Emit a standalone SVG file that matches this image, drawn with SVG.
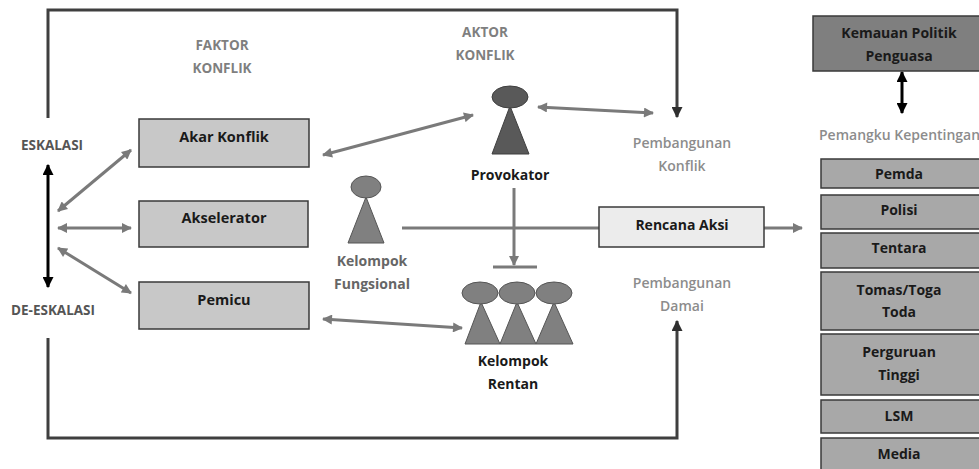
<svg xmlns="http://www.w3.org/2000/svg" width="979" height="469" viewBox="0 0 979 469">
<style>
text{font-family:"Open Sans","Noto Sans","Liberation Sans",sans-serif;text-anchor:middle}
.blk{fill:#1a1a1a;font-weight:bold;font-size:14px}
.gry{fill:#7f7f7f;font-weight:bold;font-size:13.5px}
.lgt{fill:#8c8c8c;font-size:14px;font-weight:600}
.box{fill:#c8c8c8;stroke:#3a3a3a;stroke-width:1.5}
.sbox{fill:#a8a8a8;stroke:#3a3a3a;stroke-width:1.5}
.ga{stroke:#7a7a7a;stroke-width:3;fill:none}
.fr{stroke:#3f3f3f;stroke-width:3;fill:none}
.bk{stroke:#000;stroke-width:3;fill:none}
</style>
<defs>
<marker id="gh" viewBox="0 0 10 10" refX="9" refY="5" markerWidth="11" markerHeight="10" markerUnits="userSpaceOnUse" orient="auto-start-reverse"><path d="M0,0L10,5L0,10z" fill="#7a7a7a"/></marker>
<marker id="fh" viewBox="0 0 10 10" refX="9" refY="5" markerWidth="11" markerHeight="11" markerUnits="userSpaceOnUse" orient="auto-start-reverse"><path d="M0,0L10,5L0,10z" fill="#2f2f2f"/></marker>
<marker id="bh" viewBox="0 0 10 10" refX="9" refY="5" markerWidth="11" markerHeight="11" markerUnits="userSpaceOnUse" orient="auto-start-reverse"><path d="M0,0L10,5L0,10z" fill="#000"/></marker>
</defs>

<g id="connectors">
<path class="fr" d="M48,118 V10 H677 V117" marker-end="url(#fh)"/>
<path class="fr" d="M48,338 V438 H677 V321" marker-end="url(#fh)"/>
<line class="bk" x1="48" y1="165" x2="48" y2="287" marker-start="url(#bh)" marker-end="url(#bh)"/>
<line class="ga" x1="58" y1="211" x2="131" y2="150" marker-start="url(#gh)" marker-end="url(#gh)"/>
<line class="ga" x1="58" y1="228" x2="131" y2="228" marker-start="url(#gh)" marker-end="url(#gh)"/>
<line class="ga" x1="58" y1="248" x2="131" y2="293" marker-start="url(#gh)" marker-end="url(#gh)"/>
<line class="ga" x1="323" y1="155" x2="473" y2="115" marker-start="url(#gh)" marker-end="url(#gh)"/>
<line class="ga" x1="538" y1="107" x2="653" y2="113" marker-start="url(#gh)" marker-end="url(#gh)"/>
<line class="ga" x1="323" y1="319" x2="462" y2="328" marker-start="url(#gh)" marker-end="url(#gh)"/>
<line class="ga" x1="402" y1="228" x2="599" y2="228"/>
<line class="ga" x1="514" y1="188" x2="514" y2="265" marker-end="url(#gh)"/>
<line class="ga" x1="493" y1="267" x2="537" y2="267"/>
<line class="ga" x1="764" y1="228" x2="802" y2="228" marker-end="url(#gh)"/>
<line class="bk" x1="902" y1="72" x2="902" y2="113" marker-start="url(#bh)" marker-end="url(#bh)"/>
</g>

<g id="labels">
<text class="gry" x="222" y="50">FAKTOR</text>
<text class="gry" x="222" y="73">KONFLIK</text>
<text class="gry" x="485" y="37">AKTOR</text>
<text class="gry" x="485" y="60">KONFLIK</text>
<text class="gry" x="52" y="150" style="fill:#555">ESKALASI</text>
<text class="gry" x="53" y="315" style="fill:#555">DE-ESKALASI</text>
<text class="lgt" x="682" y="148">Pembangunan</text>
<text class="lgt" x="682" y="171">Konflik</text>
<text class="lgt" x="682" y="288">Pembangunan</text>
<text class="lgt" x="682" y="311">Damai</text>
<text class="lgt" x="819" y="140" style="text-anchor:start">Pemangku Kepentingan</text>
</g>

<g id="akar-konflik">
<rect class="box" x="139" y="119" width="170" height="48"/>
<text class="blk" x="224" y="142" style="font-size:14.5px">Akar Konflik</text>
</g>
<g id="akselerator">
<rect class="box" x="139" y="201" width="169" height="46"/>
<text class="blk" x="224" y="223" style="font-size:14.5px">Akselerator</text>
</g>
<g id="pemicu">
<rect class="box" x="139" y="282" width="170" height="47"/>
<text class="blk" x="224" y="305" style="font-size:14.5px">Pemicu</text>
</g>

<g id="provokator">
<polygon points="510,106 492,154 529,154" fill="#595959" stroke="#3f3f3f" stroke-width="1"/>
<ellipse cx="510" cy="97" rx="18" ry="11" fill="#595959" stroke="#3f3f3f" stroke-width="1"/>
<text class="blk" x="510" y="180">Provokator</text>
</g>

<g id="kelompok-fungsional">
<polygon points="366,197 348,243 384,243" fill="#808080" stroke="#555" stroke-width="1"/>
<ellipse cx="366" cy="187" rx="15" ry="11" fill="#808080" stroke="#555" stroke-width="1"/>
<text class="blk" x="372" y="266" style="fill:#666">Kelompok</text>
<text class="blk" x="372" y="289" style="fill:#666">Fungsional</text>
</g>

<g id="kelompok-rentan">
<polygon points="481,302 465,344 500,344" fill="#808080" stroke="#555" stroke-width="1"/>
<polygon points="517,302 500,344 536,344" fill="#808080" stroke="#555" stroke-width="1"/>
<polygon points="554,302 536,344 573,344" fill="#808080" stroke="#555" stroke-width="1"/>
<ellipse cx="480" cy="293" rx="18" ry="11" fill="#808080" stroke="#555" stroke-width="1"/>
<ellipse cx="517" cy="293" rx="18" ry="11" fill="#808080" stroke="#555" stroke-width="1"/>
<ellipse cx="554" cy="293" rx="18" ry="11" fill="#808080" stroke="#555" stroke-width="1"/>
<text class="blk" x="513" y="366">Kelompok</text>
<text class="blk" x="513" y="389">Rentan</text>
</g>

<g id="rencana-aksi">
<rect x="599" y="207" width="165" height="40" fill="#ececec" stroke="#3a3a3a" stroke-width="1.5"/>
<text class="blk" x="682" y="230">Rencana Aksi</text>
</g>

<g id="kemauan-politik">
<rect x="813" y="16" width="170" height="55" fill="#7f7f7f" stroke="#3a3a3a" stroke-width="1.5"/>
<text class="blk" x="899" y="38">Kemauan Politik</text>
<text class="blk" x="899" y="61">Penguasa</text>
</g>

<g id="pemda"><rect class="sbox" x="821" y="159" width="160" height="29"/><text class="blk" x="899" y="179">Pemda</text></g>
<g id="polisi"><rect class="sbox" x="821" y="195" width="160" height="34"/><text class="blk" x="899" y="215">Polisi</text></g>
<g id="tentara"><rect class="sbox" x="821" y="233" width="160" height="35"/><text class="blk" x="899" y="253">Tentara</text></g>
<g id="tomas-toga"><rect class="sbox" x="821" y="272" width="160" height="58"/><text class="blk" x="899" y="295">Tomas/Toga</text><text class="blk" x="899" y="317">Toda</text></g>
<g id="perguruan-tinggi"><rect class="sbox" x="821" y="334" width="160" height="61"/><text class="blk" x="899" y="357">Perguruan</text><text class="blk" x="899" y="380">Tinggi</text></g>
<g id="lsm"><rect class="sbox" x="821" y="400" width="160" height="33"/><text class="blk" x="899" y="421">LSM</text></g>
<g id="media"><rect class="sbox" x="821" y="438" width="160" height="40"/><text class="blk" x="899" y="459">Media</text></g>
</svg>
